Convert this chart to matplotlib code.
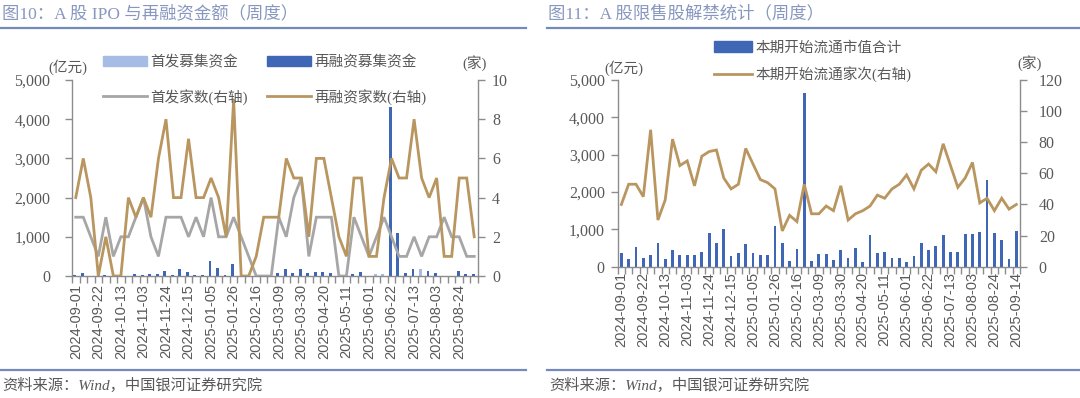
import matplotlib
matplotlib.use('Agg')
import matplotlib.pyplot as plt
from matplotlib.lines import Line2D
from matplotlib.patches import Patch
import numpy as np

# ---------------- data: left chart (weekly, 2024-09-01 .. 2025-09-07) ----------------
left_ticklabels = ["2024-09-01", "2024-09-22", "2024-10-13", "2024-11-03", "2024-11-24",
                   "2024-12-15", "2025-01-05", "2025-01-26", "2025-02-16", "2025-03-09",
                   "2025-03-30", "2025-04-20", "2025-05-11", "2025-06-01", "2025-06-22",
                   "2025-07-13", "2025-08-03", "2025-08-24"]
ipo_amount = [0, 0, 0, 0, 0, 0, 0, 0, 0, 0,
              0, 0, 0, 0, 0, 0, 0, 0, 0, 0,
              0, 0, 0, 0, 0, 0, 0, 0, 0, 0,
              0, 0, 0, 0, 0, 0, 0, 0, 0, 0,
              40, 40, 0, 0, 0, 0, 190, 0, 0, 0,
              0, 0, 0, 0]
refi_amount = [20, 70, 0, 0, 20, 0, 0, 10, 40, 30,
               40, 40, 120, 30, 170, 110, 30, 30, 390, 210,
               20, 300, 0, 0, 0, 0, 0, 85, 170, 70,
               170, 70, 100, 100, 85, 0, 0, 40, 95, 0,
               0, 0, 4300, 1100, 70, 170, 0, 130, 70, 10,
               0, 135, 40, 60]
ipo_count = [3, 3, 2, 1, 3, 1, 2, 2, 3, 4,
             2, 1, 3, 3, 3, 2, 3, 2, 4, 2,
             2, 3, 2, 1, 0, 0, 0, 3, 2, 4,
             5, 1, 3, 3, 3, 0, 0, 3, 2, 1,
             2, 3, 2, 1, 1, 2, 1, 2, 2, 3,
             2, 2, 1, 1]
refi_count = [4, 6, 4, 0, 2, 0, 0, 4, 3, 4,
              3, 6, 8, 4, 4, 7, 4, 4, 5, 4,
              2, 9, 0, 0, 1, 3, 3, 3, 6, 5,
              5, 2, 6, 6, 4, 2, 1, 5, 5, 1,
              1, 4, 6, 5, 5, 8, 5, 4, 5, 1,
              1, 5, 5, 2]

# ---------------- data: right chart (weekly, 2024-09-01 .. 2025-09-14) ----------------
right_ticklabels = left_ticklabels + ["2025-09-14"]
unlock_value = [380, 200, 535, 230, 310, 640, 205, 445, 300, 300,
                300, 400, 895, 640, 1000, 295, 355, 600, 355, 310,
                300, 1100, 625, 150, 465, 4640, 165, 330, 350, 170,
                455, 225, 500, 125, 850, 355, 400, 230, 225, 115,
                275, 625, 445, 555, 850, 400, 400, 875, 875, 920,
                2320, 900, 705, 215, 965]
unlock_count = [40, 53, 53, 45, 88, 30, 43, 82, 65, 68,
                52, 71, 74, 75, 57, 50, 53, 76, 66, 56,
                54, 50, 23, 33, 29, 53, 34, 34, 39, 36,
                52, 30, 34, 36, 39, 46, 44, 50, 53, 59,
                50, 62, 66, 61, 79, 65, 51, 57, 67, 41,
                44, 36, 44, 37, 40]

# ---------------- style ----------------
FAM = ['Liberation Serif', 'Noto Sans CJK SC', 'DejaVu Sans']
SANS = ['Liberation Sans', 'DejaVu Sans']
plt.rcParams['font.family'] = FAM
GOLD = '#b9965f'
GREY = '#a6a6a6'
DBLUE = '#3f67b5'
LBLUE = '#a7bce4'
TXT = '#595959'
SPINE = '#8c8c8c'
TITLE_C = '#8797bf'
RULE_C = '#7489bd'

W, H = 1080, 398
fig = plt.figure(figsize=(W / 100, H / 100), dpi=100)


def fx(px):
    return px / W


def fy(py):
    return 1 - py / H


def style_axes(ax, ax2, n, labels, ylim, y2lim, yticks, y2ticks, lpad, rpad, xpad):
    ax.set_xlim(-0.5, n - 0.5)
    ax.set_ylim(*ylim)
    ax2.set_ylim(*y2lim)
    for a in (ax, ax2):
        a.spines['top'].set_visible(False)
        for s in ('left', 'right', 'bottom'):
            a.spines[s].set_color(SPINE)
            a.spines[s].set_linewidth(1.0)
    ax.spines['right'].set_visible(False)
    ax2.spines['left'].set_visible(False)
    ax2.spines['bottom'].set_visible(False)
    ax.set_yticks(yticks)
    ax.set_yticklabels([f"{v:,}" for v in yticks])
    ax2.set_yticks(y2ticks)
    ax2.set_yticklabels([str(v) for v in y2ticks])
    ax.tick_params(axis='y', direction='out', length=5, width=1, color=SPINE,
                   labelcolor=TXT, labelsize=11.5, pad=lpad)
    ax2.tick_params(axis='y', direction='out', length=5, width=1, color=SPINE,
                    labelcolor=TXT, labelsize=11.5, pad=rpad)
    idx = list(range(0, n, 3))[:len(labels)]
    ax.set_xticks(idx)
    ax.set_xticklabels(labels, rotation=90, family=SANS)
    ax.tick_params(axis='x', which='major', length=0, labelcolor=TXT, labelsize=10.5, pad=xpad)
    ax.set_xticks(np.arange(-0.5, n, 1.0), minor=True)
    ax.tick_params(axis='x', which='minor', direction='out', length=5, width=1, color=SPINE)


# ---------------- left chart ----------------
nL = len(refi_count)
xL = np.arange(nL)
axL = fig.add_axes([fx(72), fy(276), fx(406), 196 / H])
axL2 = axL.twinx()
axL.bar(xL - 0.15, ipo_amount, width=0.38, color=LBLUE, zorder=2)
axL.bar(xL - 0.15, refi_amount, width=0.38, color=DBLUE, zorder=3)
axL2.plot(xL, ipo_count, color=GREY, lw=2.0, solid_joinstyle='miter')
axL2.plot(xL, refi_count, color=GOLD, lw=2.0, solid_joinstyle='miter')
style_axes(axL, axL2, nL, left_ticklabels, (0, 5000), (0, 10),
           [0, 1000, 2000, 3000, 4000, 5000], [0, 2, 4, 6, 8, 10], 10.5, 5, 6)

handlesL = [Patch(color=LBLUE), Line2D([], [], color=GREY, lw=2.0),
            Patch(color=DBLUE), Line2D([], [], color=GOLD, lw=2.0)]
labelsL = ['首发募集资金', '首发家数(右轴)', '再融资募集资金', '再融资家数(右轴)']
fig.legend(handlesL, labelsL, ncol=2, loc='upper left',
           bbox_to_anchor=(fx(103), fy(55)), bbox_transform=fig.transFigure,
           frameon=False, borderpad=0, borderaxespad=0, handlelength=3.0,
           handletextpad=0.25, columnspacing=1.3, labelspacing=1.35,
           prop={'family': FAM, 'size': 10.5}, labelcolor=TXT)

fig.text(fx(48), fy(67), '(亿元)', fontsize=10.5, color=TXT, va='center', ha='left')
fig.text(fx(462), fy(63), '(家)', fontsize=10.5, color=TXT, va='center', ha='left')

# ---------------- right chart ----------------
nR = len(unlock_count)
xR = np.arange(nR)
axR = fig.add_axes([fx(617.7), fy(266.7), fx(402.3), 186.7 / H])
axR2 = axR.twinx()
axR.bar(xR, unlock_value, width=0.38, color=DBLUE, zorder=2)
axR2.plot(xR, unlock_count, color=GOLD, lw=2.0, solid_joinstyle='miter')
style_axes(axR, axR2, nR, right_ticklabels, (0, 5000), (0, 120),
           [0, 1000, 2000, 3000, 4000, 5000], [0, 20, 40, 60, 80, 100, 120], 4.3, 8.5, 4)

handlesR = [Patch(color=DBLUE), Line2D([], [], color=GOLD, lw=2.0)]
labelsR = ['本期开始流通市值合计', '本期开始流通家次(右轴)']
fig.legend(handlesR, labelsR, ncol=1, loc='upper left',
           bbox_to_anchor=(fx(714), fy(41)), bbox_transform=fig.transFigure,
           frameon=False, borderpad=0, borderaxespad=0, handlelength=2.6,
           handletextpad=0.25, labelspacing=0.8,
           prop={'family': FAM, 'size': 10.5}, labelcolor=TXT)

fig.text(fx(604), fy(68), '(亿元)', fontsize=10.5, color=TXT, va='center', ha='left')
fig.text(fx(1017), fy(63), '(家)', fontsize=10.5, color=TXT, va='center', ha='left')

# ---------------- titles, rules, sources ----------------
fig.text(fx(2), fy(14), '图10：A 股 IPO 与再融资金额（周度）', fontsize=12.5, color=TITLE_C,
         va='center', ha='left')
fig.text(fx(548), fy(14), '图11：A 股限售股解禁统计（周度）', fontsize=12.5, color=TITLE_C,
         va='center', ha='left')
for x0, x1 in ((0, 526), (547, 1080)):
    fig.add_artist(Line2D([fx(x0), fx(x1)], [fy(28), fy(28)], color=RULE_C, lw=1.6))
    fig.add_artist(Line2D([fx(x0), fx(x1)], [fy(370), fy(370)], color=RULE_C, lw=1.6))
fig.text(fx(2), fy(385), '资料来源：Wind，中国银河证券研究院', fontsize=11, color=TXT,
         va='center', ha='left', style='italic')
fig.text(fx(549), fy(385), '资料来源：Wind，中国银河证券研究院', fontsize=11, color=TXT,
         va='center', ha='left', style='italic')

fig.savefig('out.png', dpi=100)
